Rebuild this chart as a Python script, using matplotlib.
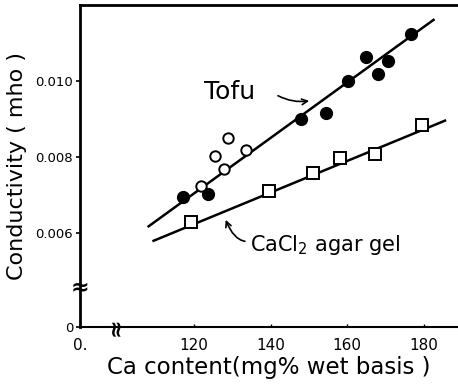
import numpy as np
import matplotlib.pyplot as plt

# readings (Ca content in mg% wet basis, conductivity in mho)
tofu_ca = [117.0, 123.7, 148.0, 154.4, 160.3, 164.9, 168.0, 170.8, 176.7]
tofu_cond = [0.00696, 0.00704, 0.0090, 0.00917, 0.0100, 0.01064, 0.01018, 0.01053, 0.01123]
tofu_open_ca = [121.9, 125.5, 127.8, 128.8, 133.5]
tofu_open_cond = [0.00724, 0.00803, 0.00770, 0.00851, 0.00820]
agar_ca = [119.2, 139.6, 151.0, 158.2, 167.3, 179.7]
agar_cond = [0.00629, 0.00711, 0.00759, 0.00797, 0.00808, 0.00884]

# fitted lines as drawn (end points)
tofu_fit_ca = [108.1, 182.6]
tofu_fit_cond = [0.00618, 0.01161]
agar_fit_ca = [109.4, 185.6]
agar_fit_cond = [0.00580, 0.00896]

x_lo, x_hi = 90.2, 189.0
y_lo, y_hi = 0.00353, 0.0120
xticks = [x_lo, 120, 140, 160, 180]
xlabels = ['0.', '120', '140', '160', '180']
yticks = [y_lo, 0.006, 0.008, 0.010]
ylabels = ['0', '0.006', '0.008', '0.010']

plt.rcParams['font.family'] = ['DejaVu Sans']

fig = plt.figure(figsize=(4.58, 3.88), dpi=100)
ax = fig.add_axes([0.175, 0.157, 0.825, 0.83])

ax.plot(tofu_fit_ca, tofu_fit_cond, color='black', lw=1.8, zorder=2)
ax.plot(agar_fit_ca, agar_fit_cond, color='black', lw=1.8, zorder=2)
ax.plot(tofu_ca, tofu_cond, 'o', color='black', ms=8.5, zorder=3)
ax.plot(tofu_open_ca, tofu_open_cond, 'o', mfc='white', mec='black', mew=1.4, ms=7.5, zorder=3)
ax.plot(agar_ca, agar_cond, 's', mfc='white', mec='black', mew=1.4, ms=8, zorder=3)

ax.set_xlim(x_lo, x_hi)
ax.set_ylim(y_lo, y_hi)
ax.set_xticks(xticks)
ax.set_xticklabels(xlabels, fontsize=11)
ax.set_yticks(yticks)
ax.set_yticklabels(ylabels, fontsize=9.5)
ax.tick_params(axis='y', direction='out', length=3, width=1.2, pad=2)
ax.tick_params(axis='x', direction='in', length=2, width=1, pad=8)

ax.spines['right'].set_visible(False)
ax.spines['left'].set_linewidth(2)
ax.spines['top'].set_linewidth(2)
ax.spines['bottom'].set_linewidth(1.5)

ax.set_xlabel('Ca content(mg% wet basis )', fontsize=16.5, labelpad=2)
ax.set_ylabel('Conductivity ( mho )', fontsize=16, labelpad=6)

# axis break marks
ax.text(0, 0.00458, '≈', transform=ax.get_yaxis_transform(), ha='center', va='center',
        fontsize=16, fontweight='bold')
ax.text(99.4, 0, '≈', transform=ax.get_xaxis_transform(), ha='center', va='center',
        fontsize=16, fontweight='bold', rotation=90)

ax.text(129.2, 0.00971, 'Tofu', fontsize=18, ha='center', va='center')
ax.annotate('', xy=(150.8, 0.00949), xytext=(141.3, 0.00965),
            arrowprops=dict(arrowstyle='->', lw=1.2, color='black',
                            connectionstyle='angle3,angleA=-30,angleB=10'))
ax.text(134.6, 0.00568, 'CaCl$_2$ agar gel', fontsize=15, ha='left', va='center')
ax.annotate('', xy=(128.0, 0.00642), xytext=(134.0, 0.00578),
            arrowprops=dict(arrowstyle='->', lw=1.2, color='black',
                            connectionstyle='angle3,angleA=180,angleB=-70'))

fig.savefig('out.png', dpi=100)
